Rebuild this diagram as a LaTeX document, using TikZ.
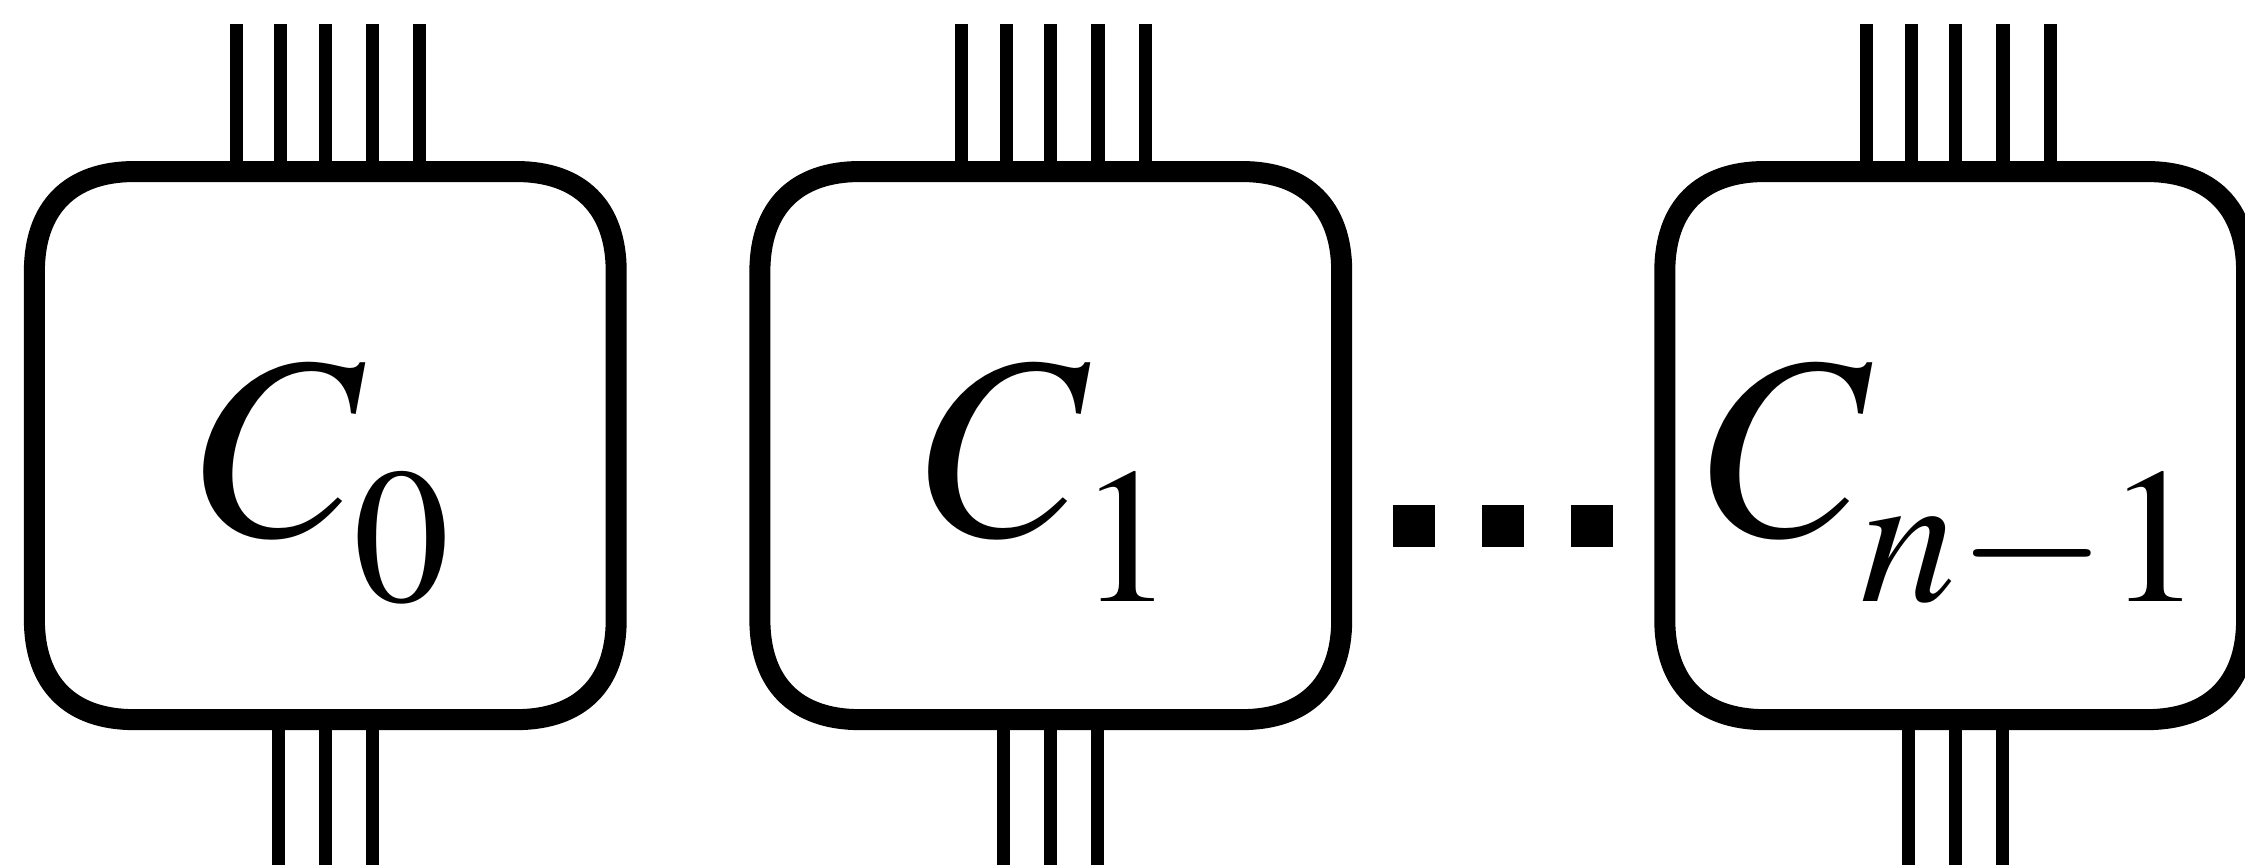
\documentclass[tikz,border=0pt]{standalone}
\usepackage{mathptmx}
\usetikzlibrary{calc}
\newcommand\dropsub[1]{_{\lower.27cm\hbox{$\scriptstyle #1$}}}
\tikzset{
  every node/.style={font=\fontsize{74}{88}\selectfont},
  chip/.style={outer sep=0pt,inner sep=0pt,minimum width=5.815cm,minimum height=5.478cm},
  rim/.style={line width=.21cm},
  pin/.style={line width=.133cm},
  gap/.style={fill,inner sep=0pt,minimum size=.42cm}}

\begin{document}
\begin{tikzpicture}[x=.01cm,y=-.01cm]
\useasboundingbox (0,0) rectangle (2245,865);
% the three blocks, left to right
\node[chip] (c0) at (325.3,445.6) {};
\node[chip] (c1) at (1050.8,445.6) {};
\node[chip] (cn) at (1955.7,445.6) {};
% outlines with soft (squircle-like) corners
\foreach \n in {c0,c1,cn}
  \draw[rim] ($(\n.north west)+(100,0)$) -- ($(\n.north east)+(-100,0)$)
    .. controls ($(\n.north east)+(-36,0)$) and ($(\n.north east)+(0,36)$) .. ($(\n.north east)+(0,100)$)
    -- ($(\n.south east)+(0,-100)$)
    .. controls ($(\n.south east)+(0,-36)$) and ($(\n.south east)+(-36,0)$) .. ($(\n.south east)+(-100,0)$)
    -- ($(\n.south west)+(100,0)$)
    .. controls ($(\n.south west)+(36,0)$) and ($(\n.south west)+(0,-36)$) .. ($(\n.south west)+(0,-100)$)
    -- ($(\n.north west)+(0,100)$)
    .. controls ($(\n.north west)+(0,36)$) and ($(\n.north west)+(36,0)$) .. ($(\n.north west)+(100,0)$)
    -- cycle;
\node[anchor=base] (l0) at ($(c0.center)+(0,90)$) {$C\dropsub{0}$};
\node[anchor=base] (l1) at ($(c1.center)+(0,90)$) {$C\dropsub{1}$};
\node[anchor=base] (ln) at ($(cn.center)+(0,90)$) {$C\dropsub{n-1}$};
% five wires on top, three below
\foreach \n in {c0,c1,cn}{
  \foreach \dx in {-89,-44.5,0,47.3,94.5}
    \draw[pin] ($(\n.north)+(\dx,0)$) -- ++(0,-148);
  \foreach \dx in {-47,0,47}
    \draw[pin] ($(\n.south)+(\dx,0)$) -- ++(0,148);
}
\foreach \i/\x in {1/1414.3,2/1503.2,3/1591.8}
  \node[gap] (d\i) at (\x,525.8) {};
\end{tikzpicture}
\end{document}
